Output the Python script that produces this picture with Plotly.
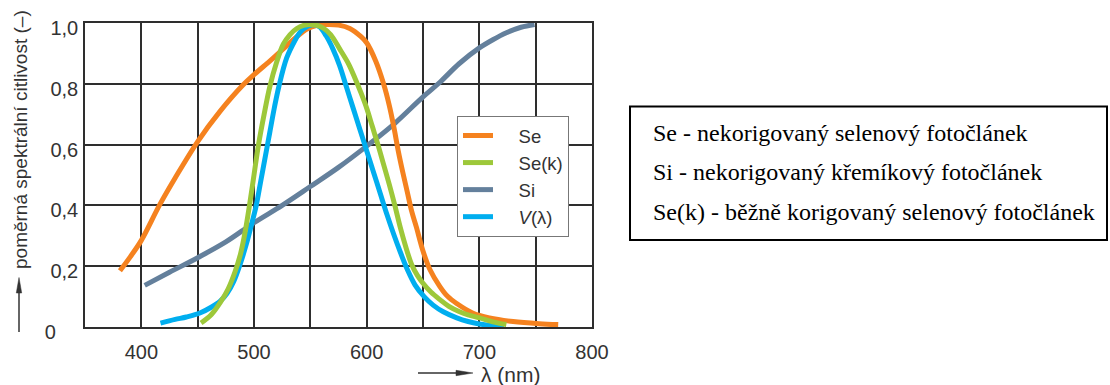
import plotly.graph_objects as go

# ---------------- data ----------------
se_wl = [381, 390, 400, 416, 430, 450, 470, 490, 500, 515, 526, 537, 547, 556, 565, 575,
         585, 595, 600, 608, 615, 620, 624, 628, 632, 636, 640, 644, 650, 656, 665, 672,
         680, 694, 709, 730, 753, 770]
se_val = [0.185, 0.23, 0.285, 0.40, 0.49, 0.61, 0.71, 0.795, 0.83, 0.878, 0.915, 0.952,
          0.98, 0.992, 0.995, 0.993, 0.982, 0.955, 0.935, 0.875, 0.80, 0.73, 0.66, 0.58,
          0.51, 0.445, 0.38, 0.33, 0.25, 0.19, 0.133, 0.10, 0.077, 0.046, 0.03, 0.018,
          0.011, 0.008]

sek_wl = [453, 462, 470, 477, 483, 488, 492, 496, 500, 504, 509, 514, 520, 526, 532, 538,
          544, 550, 556, 562, 568, 576, 584, 590, 595, 600, 605, 610, 615, 620, 625, 630,
          635, 640, 645, 650, 657, 665, 673, 682, 690, 700, 712, 724]
sek_val = [0.013, 0.04, 0.08, 0.125, 0.18, 0.24, 0.31, 0.40, 0.50, 0.60, 0.70, 0.79, 0.87,
           0.93, 0.962, 0.982, 0.992, 0.995, 0.992, 0.982, 0.962, 0.915, 0.865, 0.815,
           0.77, 0.72, 0.66, 0.60, 0.535, 0.47, 0.40, 0.325, 0.26, 0.205, 0.17, 0.144,
           0.115, 0.09, 0.068, 0.051, 0.04, 0.03, 0.017, 0.008]

si_wl = [403, 425, 450, 475, 500, 525, 550, 575, 600, 625, 650, 665, 682, 700, 712, 724,
         737, 749]
si_val = [0.137, 0.18, 0.228, 0.28, 0.343, 0.40, 0.462, 0.525, 0.595, 0.67, 0.757, 0.805,
          0.866, 0.918, 0.945, 0.968, 0.986, 0.995]

v_wl = [417, 430, 440, 452, 462, 470, 476, 482, 488, 493, 498, 502, 506, 510, 514, 518,
        522, 529, 536, 541, 547, 552, 558, 564, 570, 576, 582, 588, 594, 600, 606, 612,
        618, 624, 630, 636, 643, 651, 659, 668, 680, 690, 700, 710, 722]
v_val = [0.013, 0.025, 0.033, 0.046, 0.065, 0.085, 0.11, 0.15, 0.21, 0.27, 0.34, 0.40,
         0.48, 0.56, 0.64, 0.72, 0.79, 0.885, 0.94, 0.97, 0.988, 0.994, 0.988, 0.958,
         0.915, 0.86, 0.79, 0.72, 0.65, 0.58, 0.51, 0.44, 0.37, 0.305, 0.245, 0.19,
         0.138, 0.10, 0.072, 0.05, 0.03, 0.018, 0.01, 0.005, 0.002]

series_names = ["Se", "Se(k)", "Si", "<i>V</i>(λ)"]
series_colors = ["#F5821F", "#9DC83A", "#64809C", "#00AEEF"]

x_tick_vals = [350, 400, 450, 500, 550, 600, 650, 700, 750, 800]
x_tick_text = ["", "400", "", "500", "", "600", "", "700", "", "800"]
y_tick_vals = [0, 0.2, 0.4, 0.6, 0.8, 1.0]
y_tick_text = ["0", "0,2", "0,4", "0,6", "0,8", "1,0"]

y_title = "poměrná spektrální citlivost (–)"
x_title = "λ (nm)"
note_lines = [
    "Se - nekorigovaný selenový fotočlánek",
    "Si - nekorigovaný křemíkový fotočlánek",
    "Se(k) - běžně korigovaný selenový fotočlánek",
]

# ---------------- layout geometry ----------------
W_PAGE, H_PAGE = 1110, 385
L, R, T, B = 85, 592, 23, 327
PW, PH = R - L, B - T


def px(xp):
    return (xp - L) / PW


def py(yp):
    return (B - yp) / PH


fig = go.Figure()

data = [(se_wl, se_val), (sek_wl, sek_val), (si_wl, si_val), (v_wl, v_val)]
draw_order = [2, 0, 3, 1]
pad = "\u00a0" * 4
for i in draw_order:
    wl, val = data[i]
    fig.add_trace(go.Scatter(
        x=wl, y=val, mode="lines", name=pad + series_names[i],
        line=dict(color=series_colors[i], width=5, shape="spline", smoothing=1.0),
        legendrank=i + 1, hoverinfo="skip",
    ))

FAM = "Liberation Sans, Arial, sans-serif"
TXT = "#333333"
tick_font = dict(family=FAM, size=20, color=TXT)
leg_font = dict(family=FAM, size=18.5, color=TXT)
title_font = dict(family=FAM, size=19, color=TXT)
grid_col = "#2e2e2e"

y_text = [t + ("\u00a0" * 3 + "\u2009\u200a" if t == "0" else "") for t in y_tick_text]

fig.update_layout(
    width=W_PAGE, height=H_PAGE,
    margin=dict(l=L, r=W_PAGE - R, t=T, b=H_PAGE - B, pad=0),
    paper_bgcolor="white", plot_bgcolor="white",
    font=tick_font,
    xaxis=dict(range=[350, 800], tickvals=x_tick_vals, ticktext=x_tick_text,
               showgrid=True, gridcolor=grid_col, gridwidth=1.6, zeroline=False,
               showline=True, linecolor=grid_col, linewidth=1.6, mirror=True,
               ticks="", ticklabelstandoff=6, tickfont=tick_font, fixedrange=True),
    yaxis=dict(range=[0, 1], tickvals=y_tick_vals, ticktext=y_text,
               showgrid=True, gridcolor=grid_col, gridwidth=1.6, zeroline=False,
               showline=True, linecolor=grid_col, linewidth=1.6, mirror=True,
               ticks="", ticklabelstandoff=1, ticklabelshift=5, tickfont=tick_font,
               fixedrange=True),
    showlegend=True,
    legend=dict(x=px(457), y=py(116), xanchor="left", yanchor="top",
                bgcolor="white", bordercolor="#777777", borderwidth=1,
                font=leg_font, tracegroupgap=0, itemwidth=30),
)

annotations = []
annotations.append(dict(x=px(20), y=py(140), xref="paper", yref="paper",
                        text=y_title, textangle=-90, showarrow=False,
                        xanchor="center", yanchor="middle", font=title_font))
annotations.append(dict(x=px(479), y=py(374), xref="paper", yref="paper",
                        text=x_title, showarrow=False,
                        xanchor="left", yanchor="middle",
                        font=dict(family=FAM, size=21, color=TXT)))
note_y = [132.5, 172, 211.5]
for t, yy in zip(note_lines, note_y):
    annotations.append(dict(x=px(651), y=py(yy), xref="paper", yref="paper",
                            text=t, showarrow=False, xanchor="left", yanchor="middle",
                            font=dict(family="Liberation Serif, Times New Roman, serif",
                                      size=24, color="black")))
fig.update_layout(annotations=annotations)

shapes = []
shapes.append(dict(type="rect", xref="paper", yref="paper",
                   x0=px(630), x1=px(1107), y0=py(240), y1=py(106.5),
                   line=dict(color="black", width=2), fillcolor="rgba(0,0,0,0)"))
shapes.append(dict(type="line", xref="paper", yref="paper",
                   x0=px(19), x1=px(19), y0=py(332), y1=py(290),
                   line=dict(color=TXT, width=1.5)))
shapes.append(dict(type="path", xref="paper", yref="paper",
                   path=f"M {px(16.3)},{py(293)} L {px(21.7)},{py(293)} L {px(19)},{py(277.5)} Z",
                   line=dict(color=TXT, width=0.5), fillcolor=TXT))
shapes.append(dict(type="line", xref="paper", yref="paper",
                   x0=px(418), x1=px(460), y0=py(373), y1=py(373),
                   line=dict(color=TXT, width=1.5)))
shapes.append(dict(type="path", xref="paper", yref="paper",
                   path=f"M {px(456)},{py(370.3)} L {px(456)},{py(375.7)} L {px(473)},{py(373)} Z",
                   line=dict(color=TXT, width=0.5), fillcolor=TXT))
fig.update_layout(shapes=shapes)

fig.write_html("out.html", config={"displayModeBar": False})
